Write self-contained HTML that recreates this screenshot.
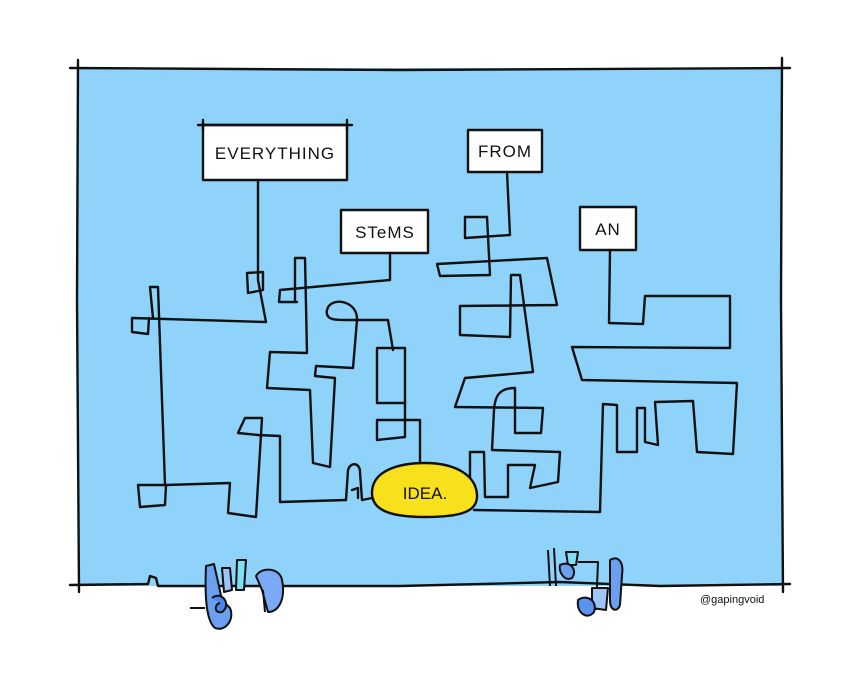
<!DOCTYPE html>
<html><head><meta charset="utf-8"><style>
html,body{margin:0;padding:0;background:#fff;}
svg{display:block;}
text{font-family:"Liberation Sans",sans-serif;}
</style></head><body>
<svg width="852" height="682" viewBox="0 0 852 682" xmlns="http://www.w3.org/2000/svg">
<rect x="78" y="68" width="704" height="518" fill="#8fd3fb"/>
<g fill="none" stroke="#111" stroke-width="2.4" stroke-linecap="round" stroke-linejoin="round">
<!-- frame -->
<path d="M70,68 L400,70 L790,68"/>
<path d="M78,60 L77,300 L79,592"/>
<path d="M782,58 L781,300 L783,592"/>
<path d="M70,585 L148,584 L150,576 L156,578 L158,586 L400,586 L560,582 L660,586 L790,584"/>
<!-- boxes -->
<rect x="203" y="125" width="144" height="55" fill="#fff"/>
<path d="M198,125 L352,125 M203,120 L203,130 M347,120 L347,130"/>
<rect x="341" y="210" width="87" height="43" fill="#fff"/>
<rect x="468" y="130" width="74" height="42" fill="#fff"/>
<rect x="580" y="207" width="56" height="43" fill="#fff"/>
<!-- maze left -->
<path d="M258,180 L258,280 L266,322 L132,318 L132,332 L148,334 L149,318"/>
<path d="M247,273 L263,272 L263,290 L248,293 Z"/>
<path d="M153,318 L150,287 L158,287 L165,485 L138,485 L140,507 L165,505 L166,485 L230,483 L228,513 L256,517 L262,418 L245,418 L238,433 L258,435 L280,436 L280,502 L346,500"/>
<path d="M390,253 L390,280 L280,290 L279,302 L297,302"/>
<path d="M295,302 L295,258 L305,258 L307,353 L270,352 L267,388 L310,390 L313,463 L330,467 L335,378 L315,376 L316,366 L353,368 L357,320 C358,300 330,296 327,310 C325,320 335,320 345,320 L388,320 L393,350"/>
<path d="M377,348 L405,348 L405,403 L377,403 Z"/>
<path d="M405,403 L405,437 L377,440 L377,420 L420,420 L420,465"/>
<path d="M346,500 L348,470 C350,462 360,462 360,472 L362,500 L372,498"/>
<path d="M352,490 L358,488 L358,498"/>
<!-- maze right -->
<path d="M507,172 L510,235 L465,238 L465,217 L487,217 L490,275 L440,276 L437,264 L547,258 L557,305 L460,306 L460,335 L510,337 L511,275 L520,275 L533,372 L465,378 L455,407 L543,408 L541,433 L515,433 L515,388 C500,388 495,395 494,410 L492,450 L560,452 L558,482 L530,488 L535,465 L508,465 L508,497 L485,497 L484,452 L470,452 L470,490"/>
<path d="M474,510 L600,512 L603,404 L617,405 L617,452 L637,452 L637,408 L645,408 L645,442 L658,445 L655,402 L693,401 L697,452 L733,454 L737,383 L582,380 L572,347 L730,348 L730,296 L645,296 L643,324 L609,323 L610,250"/>
</g>
<!-- idea -->
<path d="M372,493 C372,470 400,463 425,463 C455,463 476,475 477,495 C478,512 460,517 425,517 C390,517 372,510 372,493 Z" fill="#f7e01c" stroke="#111" stroke-width="2.4"/>
<text x="425" y="499" text-anchor="middle" font-size="17" fill="#111">IDEA.</text>
<g font-size="17" fill="#111" text-anchor="middle" letter-spacing="1">
<text x="275" y="159">EVERYTHING</text>
<text x="385" y="238">STeMS</text>
<text x="505" y="157">FROM</text>
<text x="608" y="235">AN</text>
</g>
<!-- bottom figures -->
<g stroke="#111" stroke-width="2" stroke-linejoin="round">
<path d="M206,566 L214,564 L222,600 L230,608 C235,620 225,632 215,628 C205,620 205,590 206,566 Z" fill="#6b9ff0"/>
<path d="M222,568 L230,568 L232,590 L224,592 Z" fill="#9fc4fa"/>
<path d="M237,560 L246,560 L244,590 L236,590 Z" fill="#7ee0f5"/>
<path d="M256,576 C262,566 280,568 282,580 C286,600 278,612 268,612 L262,590 Z" fill="#7aa9f5"/>
<path d="M212,598 C222,590 232,605 222,612 C214,614 214,604 220,603" fill="#4f87e8"/>
<path d="M190,608 L205,608 M263,590 L265,612" fill="none"/>
<path d="M566,552 L578,552 L576,565 L568,565 Z" fill="#7ee0f5"/>
<path d="M560,565 C570,560 578,570 572,578 C565,582 558,572 560,565 Z" fill="#6b9ff0"/>
<path d="M548,550 L550,586 M554,548 L556,586 M578,562 L598,562 L596,610" fill="none"/>
<path d="M610,560 C618,555 624,562 622,575 L620,605 C618,612 610,612 610,600 Z" fill="#6b9ff0"/>
<path d="M592,588 L608,588 L606,610 L592,608 Z" fill="#9fc4fa"/>
<path d="M578,600 C586,594 598,600 594,612 C588,620 576,614 578,600 Z" fill="#5a93ee"/>
</g>
<text x="700" y="603" font-size="11" fill="#111">@gapingvoid</text>
</svg>
</body></html>
